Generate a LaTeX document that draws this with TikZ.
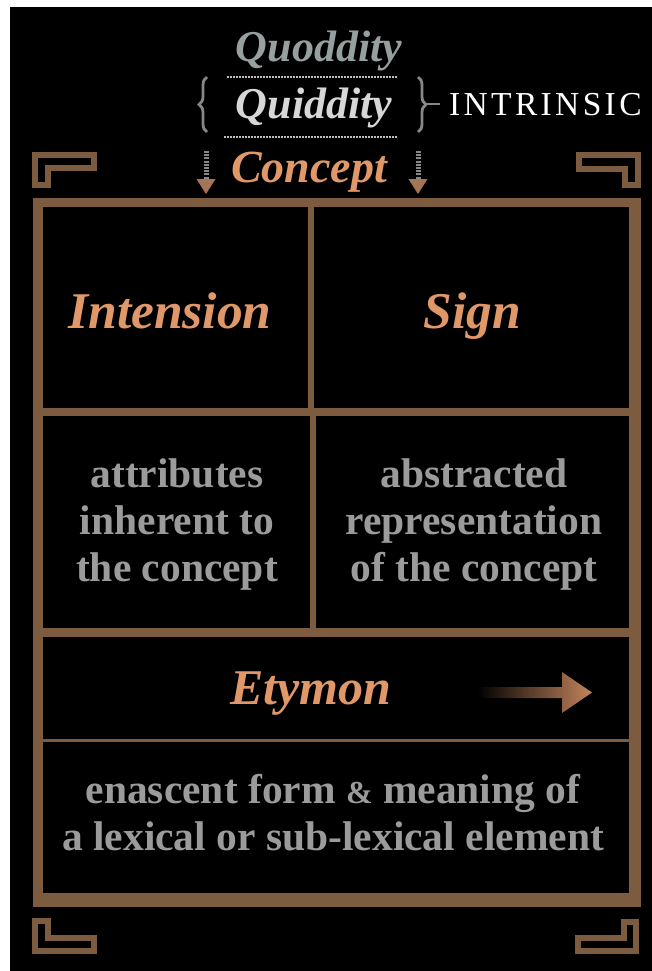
\documentclass[tikz,border=0pt]{standalone}
\usepackage{fontspec}
\setmainfont{Liberation Serif}
\newfontfamily\spacedserif[LetterSpace=10]{Liberation Serif}
\usetikzlibrary{decorations.pathreplacing}
\definecolor{framebrown}{RGB}{125,91,62}
\definecolor{accent}{RGB}{225,152,104}
\definecolor{bodygrey}{RGB}{155,155,155}
\definecolor{quodgrey}{RGB}{150,160,160}
\definecolor{quidgrey}{RGB}{215,215,215}
\definecolor{bracegrey}{RGB}{135,135,135}
\definecolor{dotgrey}{RGB}{190,190,190}
\definecolor{headbrown}{RGB}{165,118,85}
\definecolor{etymid}{RGB}{140,118,115}
\definecolor{etyend}{RGB}{195,132,92}
\tikzset{
  cell/.style={fill=black, draw=none, inner sep=0pt, outer sep=0pt},
  title/.style={text=accent, font=\fontsize{51.5}{60}\selectfont\bfseries\itshape, anchor=base, inner sep=0pt},
  toptitle/.style={font=\fontsize{44}{50}\selectfont\bfseries\itshape, anchor=base, inner sep=0pt},
  body/.style={text=bodygrey, font=\fontsize{41.5}{47}\selectfont\bfseries, anchor=base, inner sep=0pt},
  corner/.style={draw=framebrown, line width=6pt, miter limit=10},
  bracestyle/.style={draw=bracegrey, line width=2.8pt, decorate, decoration={brace, amplitude=8pt}},
  dotline/.style={draw=dotgrey, line width=1.5pt, dash pattern=on 1.5pt off 1.5pt},
  shaft/.style={draw=bracegrey, line width=5pt, dash pattern=on 2pt off 1.2pt},
  arrowhead/.style={fill=headbrown}
}
\begin{document}
\begin{tikzpicture}[x=1pt, y=-1pt]
\useasboundingbox (0,0) rectangle (652,971);
\fill[white] (0,0) rectangle (652,971);
\fill[black] (10,7) rectangle (652,971);

% corner ornaments
\draw[corner] (35,155) -- (94,155) -- (94,168) -- (48,168) -- (48,185) -- (35,185) -- cycle;
\draw[corner] (579,155) -- (638,155) -- (638,185) -- (625,185) -- (625,169) -- (579,169) -- cycle;
\draw[corner] (35,921) -- (48,921) -- (48,938) -- (94,938) -- (94,951) -- (35,951) -- cycle;
\draw[corner] (624,922) -- (636,922) -- (636,951) -- (578,951) -- (578,938) -- (624,938) -- cycle;

% frame and cells
\fill[framebrown] (33,198) rectangle (641,907);
\node[cell, minimum width=265pt, minimum height=201pt] (c1) at (175.5,307.5) {};
\node[cell, minimum width=315pt, minimum height=201pt] (c2) at (471.5,307.5) {};
\node[cell, minimum width=267pt, minimum height=212pt] (c3) at (176.5,522) {};
\node[cell, minimum width=313pt, minimum height=212pt] (c4) at (472.5,522) {};
\node[cell, minimum width=586pt, minimum height=102pt] (c5) at (336,688) {};
\node[cell, minimum width=586pt, minimum height=151pt] (c6) at (336,817.5) {};

% header words
\node[toptitle, text=quodgrey] (quod) at (319,62) {Quoddity};
\node[toptitle, text=quidgrey] (quid) at (314,119) {Quiddity};
\node[toptitle, text=accent, font=\fontsize{46}{50}\selectfont\bfseries\itshape] (concept) at (309,182) {Concept};
\node[anchor=base west, inner sep=0pt, text=white, font=\fontsize{33.5}{40}\spacedserif] (intr) at (449,116) {INTRINSIC};

% dotted rules
\coordinate (d1a) at (227,77); \coordinate (d1b) at (397,77);
\coordinate (d2a) at (224,137); \coordinate (d2b) at (397,137);
\draw[dotline] (d1a) -- (d1b);
\draw[dotline] (d2a) -- (d2b);

% braces
\coordinate (lbb) at (207,132); \coordinate (lbt) at (207,77);
\coordinate (rbt) at (418,77); \coordinate (rbb) at (418,132);
\draw[bracestyle] (lbb) -- (lbt);
\draw[bracestyle] (rbt) -- (rbb);
\coordinate (rbtip) at (427,104.5);
\draw[draw=bracegrey, line width=2pt, shorten >=9pt] (rbtip) -- (intr.west |- rbtip);

% down arrows
\coordinate (la1) at (206,151); \coordinate (la2) at (206,180);
\coordinate (ra1) at (418,151); \coordinate (ra2) at (418,180);
\draw[shaft] (la1) -- (la2);
\draw[shaft] (ra1) -- (ra2);
\fill[arrowhead] (196.5,179) -- (215.5,179) -- (206,194) -- cycle;
\fill[arrowhead] (408.5,179) -- (427.5,179) -- (418,194) -- cycle;

% cell titles
\node[title] (intension) at (170,328) {Intension};
\node[title] (sign) at (472.5,328) {Sign};
\node[title, font=\fontsize{50}{60}\selectfont\bfseries\itshape] (etymon) at (311,704) {Etymon};

% etymon arrow
\shade[left color=black, middle color=etymid, right color=etyend]
  (477,687) -- (562,687) -- (562,672) -- (592,692.5) -- (562,713) -- (562,698) -- (477,698) -- cycle;

% body text
\node[body] (l1) at (177,487) {attributes};
\node[body] (l2) at (177,534) {inherent to};
\node[body] (l3) at (177,581) {the concept};
\node[body] (r1) at (474,487) {abstracted};
\node[body] (r2) at (474,534) {representation};
\node[body] (r3) at (474,581) {of the concept};
\node[body] (b1) at (333,803) {enascent form {\fontsize{32}{40}\selectfont\&} meaning of};
\node[body] (b2) at (333,850) {a lexical or sub-lexical element};
\end{tikzpicture}
\end{document}
